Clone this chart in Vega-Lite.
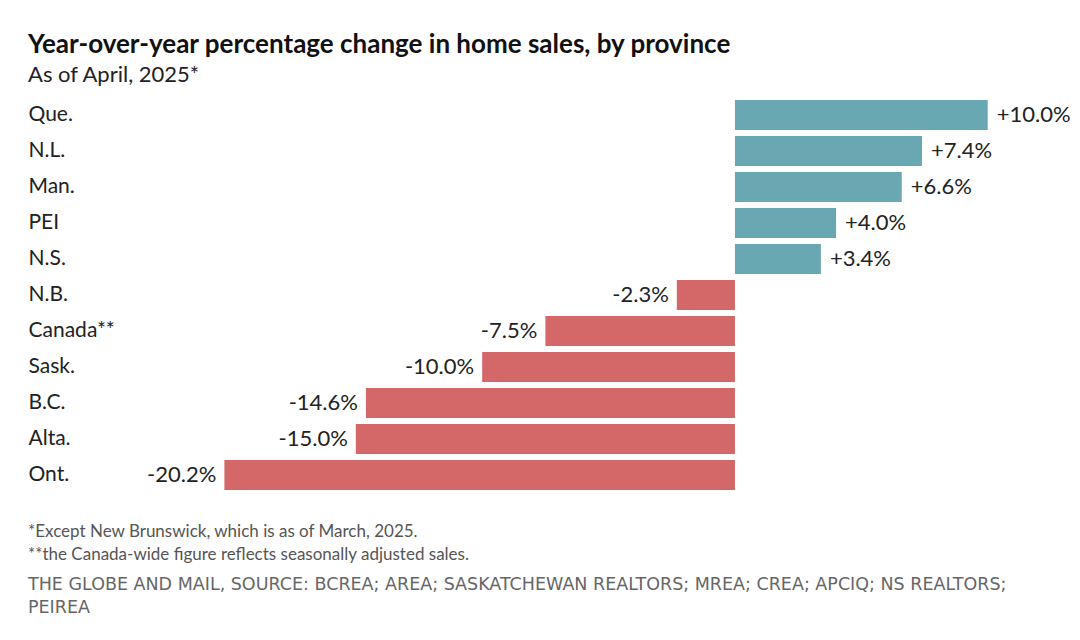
{
  "$schema": "https://vega.github.io/schema/vega-lite/v6.json",
  "padding": {"left": 28, "top": 32, "right": 0, "bottom": 0},
  "background": "white",
  "config": {"view": {"stroke": null}, "concat": {"spacing": 0}},
  "title": {
    "text": "Year-over-year percentage change in home sales, by province",
    "subtitle": "As of April, 2025*",
    "anchor": "start",
    "font": "Lato",
    "fontSize": 26,
    "fontWeight": "bold",
    "color": "#111111",
    "subtitleFont": "Lato",
    "subtitleFontSize": 22,
    "subtitleColor": "#222222",
    "subtitlePadding": 7,
    "offset": 11
  },
  "vconcat": [
    {
      "width": 1032,
      "height": 396,
      "title": {
        "text": ["*Except New Brunswick, which is as of March, 2025.", "**the Canada-wide figure reflects seasonally adjusted sales."],
        "subtitle": ["THE GLOBE AND MAIL, SOURCE: BCREA; AREA; SASKATCHEWAN REALTORS; MREA; CREA; APCIQ; NS REALTORS;", "PEIREA"],
        "orient": "bottom",
        "anchor": "start",
        "font": "Lato",
        "fontSize": 17,
        "fontWeight": "normal",
        "color": "#555555",
        "lineHeight": 23,
        "subtitleFont": "DejaVu Sans",
        "subtitleFontSize": 17.5,
        "subtitleColor": "#666666",
        "subtitleLineHeight": 23,
        "subtitlePadding": 12,
        "offset": 31
      },
      "data": {
        "values": [
          {"province": "Que.", "value": 10.0, "label": "+10.0%"},
          {"province": "N.L.", "value": 7.4, "label": "+7.4%"},
          {"province": "Man.", "value": 6.6, "label": "+6.6%"},
          {"province": "PEI", "value": 4.0, "label": "+4.0%"},
          {"province": "N.S.", "value": 3.4, "label": "+3.4%"},
          {"province": "N.B.", "value": -2.3, "label": "-2.3%"},
          {"province": "Canada**", "value": -7.5, "label": "-7.5%"},
          {"province": "Sask.", "value": -10.0, "label": "-10.0%"},
          {"province": "B.C.", "value": -14.6, "label": "-14.6%"},
          {"province": "Alta.", "value": -15.0, "label": "-15.0%"},
          {"province": "Ont.", "value": -20.2, "label": "-20.2%"}
        ]
      },
      "encoding": {
        "y": {
          "field": "province",
          "type": "nominal",
          "sort": null,
          "scale": {"paddingInner": 0.1667, "paddingOuter": 0.0833},
          "axis": {
            "title": null,
            "orient": "left",
            "labelAlign": "left",
            "labelPadding": 0,
            "ticks": false,
            "tickSize": 0,
            "domain": false,
            "grid": false,
            "labelFont": "Lato",
            "labelFontSize": 21,
            "labelColor": "#222222"
          }
        }
      },
      "layer": [
        {
          "mark": {"type": "bar"},
          "encoding": {
            "x": {
              "field": "value",
              "type": "quantitative",
              "scale": {"domain": [-27.97, 12.86], "nice": false, "zero": false},
              "axis": null
            },
            "color": {
              "condition": {"test": "datum.value > 0", "value": "#69a8b2"},
              "value": "#d46768"
            }
          }
        },
        {
          "mark": {"type": "rule", "color": "#333333", "strokeWidth": 2},
          "encoding": {"x": {"datum": 0, "type": "quantitative"}}
        },
        {
          "transform": [{"filter": "datum.value > 0"}],
          "mark": {"type": "text", "align": "left", "baseline": "middle", "dx": 9, "font": "Lato", "fontSize": 22, "color": "#222222"},
          "encoding": {
            "x": {"field": "value", "type": "quantitative"},
            "text": {"field": "label"}
          }
        },
        {
          "transform": [{"filter": "datum.value < 0"}],
          "mark": {"type": "text", "align": "right", "baseline": "middle", "dx": -8, "font": "Lato", "fontSize": 22, "color": "#222222"},
          "encoding": {
            "x": {"field": "value", "type": "quantitative"},
            "text": {"field": "label"}
          }
        }
      ]
    }
  ]
}
